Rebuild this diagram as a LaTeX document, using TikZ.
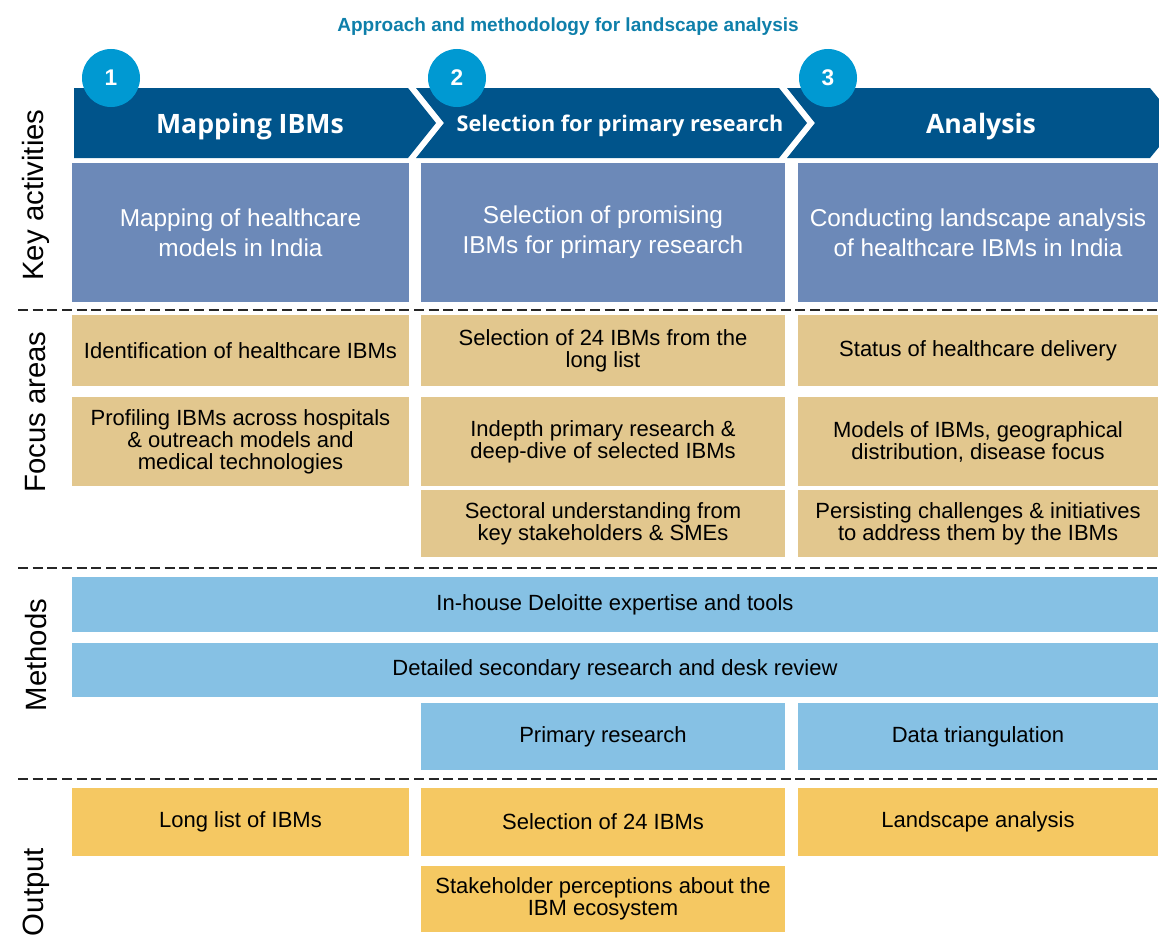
\documentclass[tikz,border=0pt]{standalone}
\usepackage{fontspec}
\setmainfont{Liberation Sans}
\newfontfamily\headfont{Open Sans}
\usetikzlibrary{calc,positioning}
\definecolor{titleblue}{HTML}{0E7FAA}
\definecolor{chevblue}{HTML}{00548B}
\definecolor{stepblue}{HTML}{0099D2}
\definecolor{keyblue}{HTML}{6C89B8}
\definecolor{focustan}{HTML}{E2C78E}
\definecolor{methodblue}{HTML}{86C1E4}
\definecolor{outyellow}{HTML}{F5C862}
\tikzset{
box/.style={inner sep=0pt, align=center, font=\fontsize{16.5}{16.5}\selectfont}, % plain text box
cell/.style n args={2}{minimum width=#1*0.75pt, minimum height=#2*0.75pt}, % size in layout pixels
keybox/.style={box, fill=keyblue, text=white, font=\fontsize{18.3}{22.5}\selectfont},
focusbox/.style={box, fill=focustan},
methodbox/.style={box, fill=methodblue},
outbox/.style={box, fill=outyellow},
sidelabel/.style={rotate=90, font=\fontsize{22}{22}\selectfont},
stepnum/.style={circle, fill=stepblue, text=white, minimum size=43.5pt, inner sep=0pt, font=\fontsize{17}{17}\selectfont\bfseries},
chevtext/.style={text=white, font=\headfont\bfseries\fontsize{20}{20}\selectfont},
sepline/.style={line width=2pt, black!85, dash pattern=on 7.5pt off 3.5pt},
}
\begin{document}
\begin{tikzpicture}[x=0.75pt,y=-0.75pt]
\useasboundingbox (0,0) rectangle (1159,949);
% title
\node[text=titleblue, font=\fontsize{14.25}{14.25}\selectfont\bfseries] (title) at (568,27) {Approach and methodology for landscape analysis};
% chevrons
\fill[chevblue] (74,88) -- (408,88) -- (436,123) -- (408,158) -- (74,158) -- cycle;
\fill[chevblue] (416,88) -- (779,88) -- (807,123) -- (779,158) -- (416,158) -- (444,123) -- cycle;
\fill[chevblue] (787,88) -- (1150,88) -- (1159,99) -- (1159,147) -- (1150,158) -- (787,158) -- (815,123) -- cycle;
\node[chevtext] (h1) at (250,127) {Mapping IBMs};
\node[chevtext, font=\headfont\bfseries\fontsize{16.2}{16.2}\selectfont] (h2) at (620,126) {Selection for primary research};
\node[chevtext] (h3) at (981,127) {Analysis};
\node[stepnum] (n1) at (111,78) {1};
\node[stepnum] (n2) at (457,78) {2};
\node[stepnum] (n3) at (828,78) {3};
% separators
\foreach \y in {310,568,779}
  \draw[sepline] (18,\y) -- (1159,\y);
% side labels
\node[sidelabel] (lkey) at (36,195) {Key activities};
\node[sidelabel] (lfocus) at (36,412) {Focus areas};
\node[sidelabel] (lmeth) at (36,655) {Methods};
\node[sidelabel] (lout) at (36,892) {Output};
% key activities
\node[keybox, cell={337}{139}] (k1) at (240.5,232.5) {Mapping of healthcare\\models in India};
\node[keybox, cell={364}{139}] (k2) at (603,232.5) {Selection of promising\\IBMs for primary research};
\node[keybox, cell={360}{139}] (k3) at (978,232.5) {Conducting landscape analysis\\of healthcare IBMs in India};
% focus areas
\node[focusbox, cell={337}{71}] (f11) at (240.5,350.5) {Identification of healthcare IBMs};
\node[focusbox, cell={337}{89}] (f12) at (240.5,441.5) {Profiling IBMs across hospitals\\\& outreach models and\\medical technologies};
\node[focusbox, cell={364}{71}] (f21) at (603,350.5) {Selection of 24 IBMs from the\\long list};
\node[focusbox, cell={364}{89}] (f22) at (603,441.5) {Indepth primary research \&\\deep-dive of selected IBMs};
\node[focusbox, cell={364}{67}] (f23) at (603,523.5) {Sectoral understanding from\\key stakeholders \& SMEs};
\node[focusbox, cell={360}{71}] (f31) at (978,350.5) {Status of healthcare delivery};
\node[focusbox, cell={360}{89}] (f32) at (978,441.5) {Models of IBMs, geographical\\distribution, disease focus};
\node[focusbox, cell={360}{67}] (f33) at (978,523.5) {Persisting challenges \& initiatives\\to address them by the IBMs};
% methods
\node[methodbox, cell={1086}{55}] (m1) at (615,604.5) {In-house Deloitte expertise and tools};
\node[methodbox, cell={1086}{54}] (m2) at (615,670) {Detailed secondary research and desk review};
\node[methodbox, cell={364}{67}] (m3) at (603,736.5) {Primary research};
\node[methodbox, cell={360}{67}] (m4) at (978,736.5) {Data triangulation};
% output
\node[outbox, cell={337}{68}] (o1) at (240.5,822) {Long list of IBMs};
\node[outbox, cell={364}{68}] (o2) at (603,822) {Selection of 24 IBMs};
\node[outbox, cell={364}{66}] (o3) at (603,899) {Stakeholder perceptions about the\\IBM ecosystem};
\node[outbox, cell={360}{68}] (o4) at (978,822) {Landscape analysis};
\end{tikzpicture}
\end{document}
